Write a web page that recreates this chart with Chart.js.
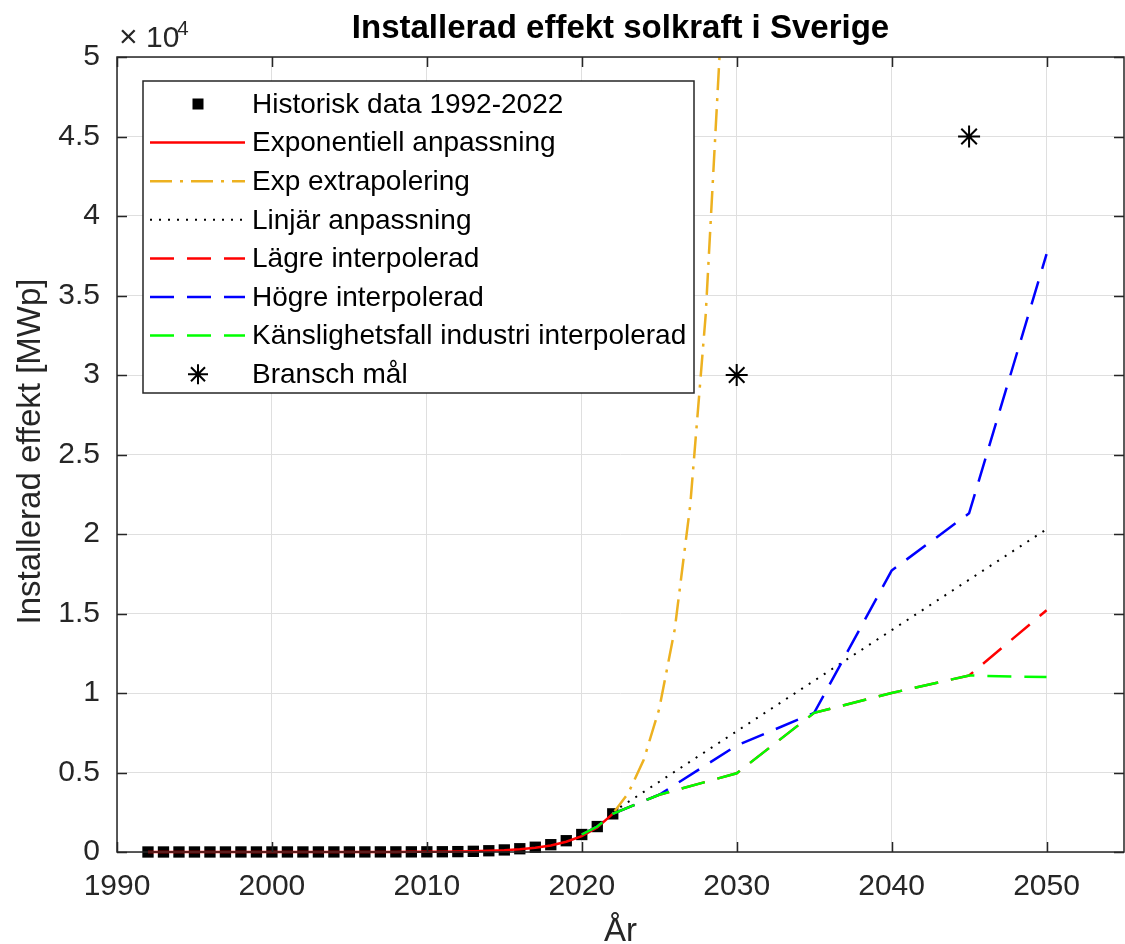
<!DOCTYPE html>
<html>
<head>
<meta charset="utf-8">
<script src="https://cdn.jsdelivr.net/npm/chart.js@4.4.1/dist/chart.umd.min.js"></script>
<style>
body{margin:0;background:#fff}
canvas{display:block}
</style>
</head>
<body>
<canvas id="solChart" width="1125" height="944"></canvas>
<script>
// historisk data 1992-2022 (MWp)
let histYears=[1992,1993,1994,1995,1996,1997,1998,1999,2000,2001,2002,2003,2004,2005,2006,2007,2008,2009,2010,2011,2012,2013,2014,2015,2016,2017,2018,2019,2020,2021,2022]
let histValues=[0.8,1,1.3,1.6,1.7,2.1,2.4,2.6,2.8,3,3.3,3.6,3.9,4.2,4.9,6.2,7.9,8.8,11,16,24,43,79,130,205,300,460,710,1100,1600,2400]

// exponentiell anpassning (avläst)
let fitValues=[0,0,0,0,0,0,0,0.1,0.2,0.3,0.4,0.6,0.9,1.4,2,3,5,8,12,19,30,46,72,111,173,268,415,645,1000,1550,2400]

// exp extrapolering
let extraYears=[2022,2023,2024,2025,2026,2027,2028,2029,2030]
let extraValues=[2400,3700,5800,9000,14000,21800,33800,52000,80000]

// linjär anpassning
let linYears=[2022,2050]
let linValues=[2510,20300]

// interpolerade scenarier
let scenYears=[2020,2021,2022,2025,2030,2035,2040,2045,2050]
let lowValues=[1100,1600,2400,3600,4950,8750,10000,11100,15200]
let highValues=[1100,1600,2400,3600,6700,8750,17700,21300,37600]
let sensValues=[1100,1600,2400,3600,4950,8750,10000,11100,11000]

// bransch mål
let goalYears=[2030,2045]
let goalValues=[30000,45000]

let labels=["Historisk data 1992-2022","Exponentiell anpassning","Exp extrapolering","Linjär anpassning","Lägre interpolerad","Högre interpolerad","Känslighetsfall industri interpolerad","Bransch mål"]

let xTicks={min:1990,max:2055,step:10}
let yTicks={min:0,max:50000,step:5000,scale:1e4}

function pts(xs,ys){
return xs.map((x,i)=>({x:x,y:ys[i]}))
}

const FONT='"Liberation Sans", Arial, Helvetica, sans-serif'
const AXIS='#262626'
Chart.defaults.font.family=FONT

let framePlugin={
id:"matlabFrame",
afterDraw(chart){
let ctx=chart.ctx
let a=chart.chartArea
let xs=chart.scales.x
let ys=chart.scales.y

ctx.save()
ctx.strokeStyle=AXIS
ctx.lineWidth=1.5
ctx.strokeRect(a.left,a.top,a.right-a.left,a.bottom-a.top)

// ticks inward on all sides
ctx.beginPath()
xs.ticks.forEach(t=>{
let px=Math.round(xs.getPixelForValue(t.value))+0.5
ctx.moveTo(px,a.bottom);ctx.lineTo(px,a.bottom-10)
ctx.moveTo(px,a.top);ctx.lineTo(px,a.top+10)
})
ys.ticks.forEach(t=>{
let py=Math.round(ys.getPixelForValue(t.value))+0.5
ctx.moveTo(a.left,py);ctx.lineTo(a.left+10,py)
ctx.moveTo(a.right,py);ctx.lineTo(a.right-10,py)
})
ctx.stroke()

// title
ctx.fillStyle="#000"
ctx.font="bold 33px "+FONT
ctx.textAlign="center"
ctx.textBaseline="alphabetic"
ctx.fillText("Installerad effekt solkraft i Sverige",(a.left+a.right)/2,38)

// axis titles
ctx.fillStyle=AXIS
ctx.font="33px "+FONT
ctx.fillText("År",(a.left+a.right)/2,941)
ctx.save()
ctx.translate(40,(a.top+a.bottom)/2-3)
ctx.rotate(-Math.PI/2)
ctx.fillText("Installerad effekt [MWp]",0,0)
ctx.restore()

// exponent
ctx.textAlign="left"
ctx.font="32px "+FONT
ctx.fillText("×",119,47)
ctx.font="30px "+FONT
ctx.fillText("10",146,47)
ctx.font="21px "+FONT
ctx.fillText("4",177,35)

// legend
let lx=143,ly=81,lw=551,lh=312
ctx.fillStyle="#fff"
ctx.fillRect(lx,ly,lw,lh)
ctx.lineWidth=1.5
ctx.strokeStyle=AXIS
ctx.strokeRect(lx,ly,lw,lh)
ctx.font="28px "+FONT
ctx.textBaseline="middle"
chart.data.datasets.forEach((ds,i)=>{
let cy=104+38.6*i
if(ds.showLine===false){
ctx.fillStyle="#000"
ctx.strokeStyle="#000"
if(ds.pointStyle==="rect"){
ctx.fillRect(198-5.5,cy-5.5,11,11)
}else{
ctx.lineWidth=2
ctx.beginPath()
let r=10
ctx.moveTo(198-r,cy);ctx.lineTo(198+r,cy)
ctx.moveTo(198,cy-r);ctx.lineTo(198,cy+r)
let d=r*0.7
ctx.moveTo(198-d,cy-d);ctx.lineTo(198+d,cy+d)
ctx.moveTo(198-d,cy+d);ctx.lineTo(198+d,cy-d)
ctx.stroke()
}
}else{
ctx.save()
ctx.strokeStyle=ds.borderColor
ctx.lineWidth=ds.borderWidth
ctx.setLineDash(ds.borderDash||[])
ctx.beginPath()
ctx.moveTo(150,cy);ctx.lineTo(245,cy)
ctx.stroke()
ctx.restore()
}
ctx.fillStyle="#000"
ctx.fillText(labels[i],252,cy+1)
})
ctx.restore()
}
}

let datasets=[
{label:labels[0],data:pts(histYears,histValues),showLine:false,pointStyle:"rect",pointRadius:8,backgroundColor:"#000",borderColor:"#000",borderWidth:0,clip:false},
{label:labels[1],data:pts(histYears,fitValues),borderColor:"#ff0000",borderWidth:2.5,pointRadius:0,clip:false},
{label:labels[2],data:pts(extraYears,extraValues),borderColor:"#EDB120",borderWidth:2.5,borderDash:[22,8,3,8],pointRadius:0,clip:0},
{label:labels[3],data:pts(linYears,linValues),borderColor:"#000",borderWidth:2,borderDash:[2,7],pointRadius:0,clip:false},
{label:labels[4],data:pts(scenYears,lowValues),borderColor:"#ff0000",borderWidth:2.5,borderDash:[24,13],pointRadius:0,clip:false},
{label:labels[5],data:pts(scenYears,highValues),borderColor:"#0000ff",borderWidth:2.5,borderDash:[24,13],pointRadius:0,clip:false},
{label:labels[6],data:pts(scenYears,sensValues),borderColor:"#00ff00",borderWidth:2.5,borderDash:[24,13],pointRadius:0,clip:false},
{label:labels[7],data:pts(goalYears,goalValues),showLine:false,pointStyle:"star",pointRadius:11,borderColor:"#000",backgroundColor:"#000",borderWidth:2,clip:false}
]
datasets.forEach((d,i)=>{d.order=datasets.length-i;d.fill=false;d.tension=0})

let chart=new Chart(document.getElementById("solChart"),{
type:"line",
data:{datasets:datasets},
options:{
responsive:false,
animation:false,
devicePixelRatio:1,
layout:{autoPadding:false,padding:{top:57,right:1,bottom:0,left:0}},
plugins:{legend:{display:false},tooltip:{enabled:false},title:{display:false}},
scales:{
x:{
type:"linear",
min:xTicks.min,
max:xTicks.max,
afterFit(s){s.height=92;s.paddingLeft=0;s.paddingRight=0},
border:{display:false},
grid:{color:"#dfdfdf",lineWidth:1,drawTicks:false},
ticks:{stepSize:xTicks.step,includeBounds:false,autoSkip:false,maxRotation:0,padding:17,color:AXIS,font:{size:30},callback:v=>String(v)}
},
y:{
min:yTicks.min,
max:yTicks.max,
afterFit(s){s.width=117;s.paddingTop=0;s.paddingBottom=0},
border:{display:false},
grid:{color:"#dfdfdf",lineWidth:1,drawTicks:false},
ticks:{stepSize:yTicks.step,padding:17,color:AXIS,font:{size:30},callback:v=>String(v/yTicks.scale)}
}
}
},
plugins:[framePlugin]
})
</script>
</body>
</html>
